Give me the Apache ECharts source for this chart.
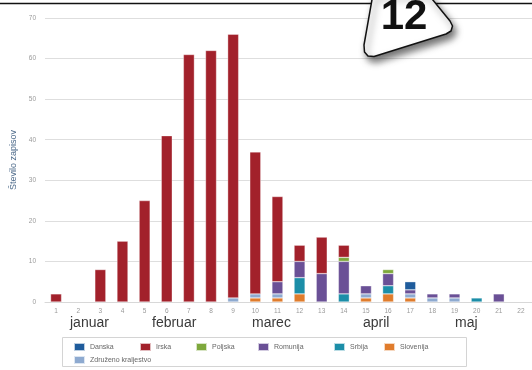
<!DOCTYPE html>
<html>
<head>
<meta charset="utf-8">
<script src="https://cdn.jsdelivr.net/npm/echarts@6/dist/echarts.min.js"></script>
<style>
  html, body { margin: 0; padding: 0; background: #fff; }
  #chart { width: 532px; height: 370px; }
</style>
</head>
<body>
<div id="chart"></div>
<script>
// Week numbers on the category axis
const weeks = ['1','2','3','4','5','6','7','8','9','10','11','12','13','14','15','16','17','18','19','20','21','22'];

// Records per week, by country
const danska    = [0,0,0,0,0,0,0,0,0,0,0,0,0,0,0,0,2,0,0,0,0,0];
const irska     = [2,0,8,15,25,41,61,62,65,35,21,4,9,3,0,0,0,0,0,0,0,0];
const poljska   = [0,0,0,0,0,0,0,0,0,0,0,0,0,1,0,1,0,0,0,0,0,0];
const romunija  = [0,0,0,0,0,0,0,0,0,0,3,4,7,8,2,3,1,1,1,0,2,0];
const srbija    = [0,0,0,0,0,0,0,0,0,0,0,4,0,2,0,2,0,0,0,1,0,0];
const slovenija = [0,0,0,0,0,0,0,0,0,1,1,2,0,0,1,2,1,0,0,0,0,0];
const zdruzeno  = [0,0,0,0,0,0,0,0,1,1,1,0,0,0,1,0,1,1,1,0,0,0];

// Y axis range
const yMin = 0, yMax = 70, yStep = 10;

// Month labels under the week numbers
const months = ['januar', 'februar', 'marec', 'april', 'maj'];
const monthX = [70, 152, 252, 363, 455];

const colors = {
  'Danska': '#1f5c9c',
  'Irska': '#a2212b',
  'Poljska': '#7ea83c',
  'Romunija': '#6a5096',
  'Srbija': '#1c8ea8',
  'Slovenija': '#e07c2c',
  'Združeno kraljestvo': '#8eaad0'
};

// stacked bottom-to-top
const stackOrder = [
  ['Slovenija', slovenija],
  ['Združeno kraljestvo', zdruzeno],
  ['Srbija', srbija],
  ['Romunija', romunija],
  ['Poljska', poljska],
  ['Irska', irska],
  ['Danska', danska]
];

const series = stackOrder.map(([name, vals]) => ({
  name: name,
  type: 'bar',
  stack: 'all',
  barWidth: 11,
  data: vals.map(v => v === 0 ? '-' : v),
  itemStyle: { color: colors[name], borderColor: 'rgba(255,255,255,0.7)', borderWidth: 0.5 }
}));

// legend entries: name, left, top
const legendPos = [
  ['Danska', 73, 342],
  ['Irska', 139, 342],
  ['Poljska', 195, 342],
  ['Romunija', 257, 342],
  ['Srbija', 333, 342],
  ['Slovenija', 383, 342],
  ['Združeno kraljestvo', 73, 355]
];

const legends = legendPos.map(([name, x, y]) => ({
  data: [name],
  left: x,
  top: y,
  padding: 0,
  itemWidth: 11,
  itemHeight: 8,
  itemGap: 0,
  icon: 'rect',
  selectedMode: false,
  textStyle: { fontSize: 7, color: '#666', fontFamily: 'Liberation Sans' }
}));

const monthTexts = months.map((m, i) => ({
  type: 'text',
  x: monthX[i],
  y: 316,
  style: { text: m, fontSize: 14, fill: '#3a3a3a', fontFamily: 'Liberation Sans' }
}));

// badge outline with softened corners
const badgePts = [
  [373, -6], [364, 45], [364.5, 52], [368, 56], [374, 56.5],
  [446, 34], [451, 31], [452.5, 26], [450, 21], [428, -6]
];

const chart = echarts.init(document.getElementById('chart'), null, { renderer: 'canvas' });
chart.setOption({
  backgroundColor: '#fff',
  animation: false,
  grid: { left: 45, top: 18, width: 488, height: 284 },
  legend: legends,
  xAxis: {
    type: 'category',
    data: weeks,
    axisLine: { lineStyle: { color: '#d8d8d8' } },
    axisTick: { show: false },
    axisLabel: { fontSize: 6.5, color: '#9a9a9a', margin: 6, interval: 0, fontFamily: 'Liberation Sans' }
  },
  yAxis: {
    type: 'value',
    min: yMin,
    max: yMax,
    interval: yStep,
    name: 'Število zapisov',
    nameLocation: 'middle',
    nameRotate: 90,
    nameGap: 27,
    nameTextStyle: { fontSize: 9, color: '#4d6a8a', fontFamily: 'Liberation Sans' },
    axisLine: { show: false },
    axisTick: { show: false },
    axisLabel: { fontSize: 6.5, color: '#9a9a9a', margin: 9, fontFamily: 'Liberation Sans' },
    splitLine: { lineStyle: { color: '#dedede', width: 1 } }
  },
  series: series,
  graphic: [
    // legend frame
    {
      type: 'rect',
      shape: { x: 62.5, y: 337.5, width: 404, height: 29 },
      style: { fill: 'none', stroke: '#d4d4d4', lineWidth: 1 },
      z: 0
    },
    ...monthTexts,
    // page rule along the top
    {
      type: 'line',
      shape: { x1: 0, y1: 3.5, x2: 532, y2: 3.5 },
      style: { stroke: '#111', lineWidth: 1.5 },
      z: 50
    },
    // page number badge
    {
      type: 'polygon',
      shape: { points: badgePts },
      style: {
        fill: '#fff',
        stroke: '#111',
        lineWidth: 1.5,
        lineJoin: 'round',
        shadowBlur: 7,
        shadowColor: 'rgba(0,0,0,0.55)',
        shadowOffsetX: 3,
        shadowOffsetY: 5
      },
      z: 60
    },
    {
      type: 'text',
      x: 404,
      y: 17,
      style: {
        text: '12',
        fontSize: 42,
        fontWeight: 'bold',
        fontFamily: 'Liberation Sans',
        fill: '#111',
        align: 'center',
        verticalAlign: 'middle'
      },
      z: 61
    }
  ]
});
</script>
</body>
</html>
